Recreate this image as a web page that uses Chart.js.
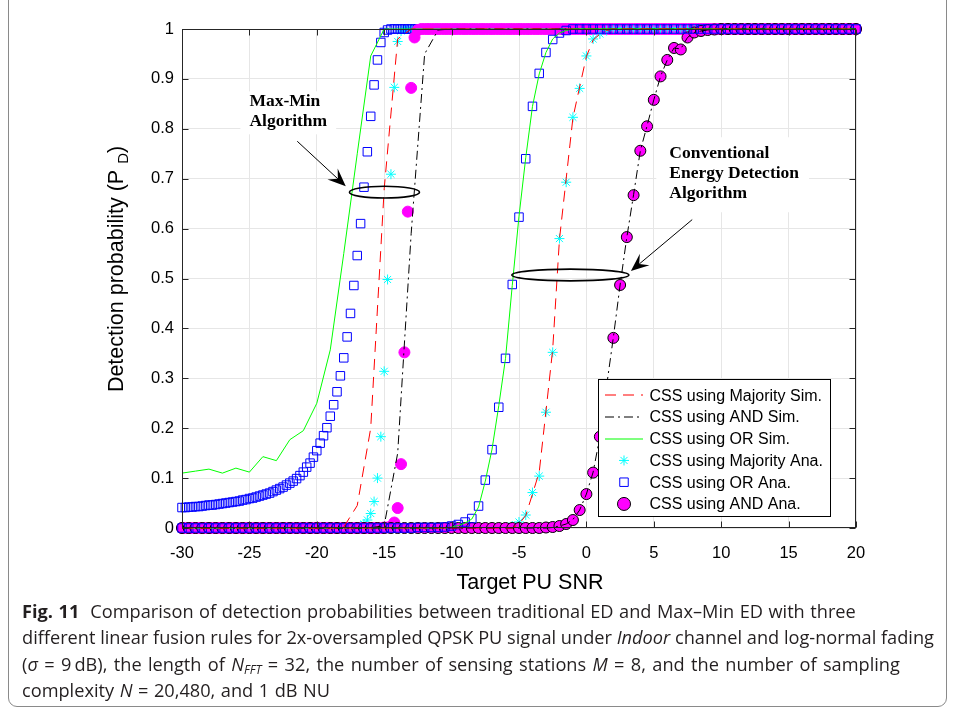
<!DOCTYPE html>
<html>
<head>
<meta charset="utf-8">
<script src="https://cdn.jsdelivr.net/npm/chart.js@4.4.1/dist/chart.umd.min.js"></script>
<style>
  html, body { margin: 0; padding: 0; background: #fff; }
  #wrap { position: relative; width: 955px; height: 714px; overflow: hidden; background: #fff; }
  #frame { position: absolute; left: 8px; top: -12px; width: 939px; height: 719px;
           border: 1px solid #8a8a8a; border-radius: 9px; box-sizing: border-box; }
  #c { position: absolute; left: 0; top: 0; }
  .cap { position: absolute; left: 22px; font-family: "Open Sans", sans-serif; font-size: 18.2px;
         line-height: 26px; color: #231f20; white-space: nowrap; }
  .cap b { font-weight: 700; }
  .cap sub { font-size: 12px; vertical-align: -3px; font-style: italic; }
</style>
</head>
<body>
<div id="wrap">
  <div id="frame"></div>
  <canvas id="c" width="955" height="714"></canvas>
  <div class="cap" data-w="833" style="top:598px"><b>Fig. 11</b>&nbsp; Comparison of detection probabilities between traditional ED and Max–Min ED with three</div>
  <div class="cap" data-w="912" style="top:624px">different linear fusion rules for 2x-oversampled QPSK PU signal under <i>Indoor</i> channel and log-normal fading</div>
  <div class="cap" data-w="878" style="top:651px">(<i>σ</i> = 9&#8201;dB), the length of <i>N</i><sub>FFT</sub> = 32, the number of sensing stations <i>M</i> = 8, and the number of sampling</div>
  <div class="cap" data-w="308" style="top:677px">complexity <i>N</i> = 20,480, and 1 dB NU</div>
</div>
<script>
// ---- SNR grids (dB) ----
const snrFine = [
  -30,-29.75,-29.5,-29.25,-29,-28.75,-28.5,-28.25,-28,-27.75,-27.5,-27.25,-27,-26.75,-26.5,-26.25,-26,-25.75,-25.5,-25.25,
  -25,-24.75,-24.5,-24.25,-24,-23.75,-23.5,-23.25,-23,-22.75,-22.5,-22.25,-22,-21.75,-21.5,-21.25,-21,-20.75,-20.5,-20.25,
  -20,-19.75,-19.5,-19.25,-19,-18.75,-18.5,-18.25,-18,-17.75,-17.5,-17.25,-17,-16.75,-16.5,-16.25,-16,-15.75,-15.5,-15.25,
  -15,-14.75,-14.5,-14.25,-14,-13.75,-13.5,-13.25,-13,-12.75,-12.5,-12.25,-12,-11.75,-11.5,-11.25,-11,-10.75,-10.5,-10.25,
  -10,-9.75,-9.5,-9.25,-9,-8.75,-8.5,-8.25,-8,-7.75,-7.5,-7.25,-7,-6.75,-6.5,-6.25,-6,-5.75,-5.5,-5.25,
  -5,-4.75,-4.5,-4.25,-4,-3.75,-3.5,-3.25,-3,-2.75,-2.5,-2.25,-2,-1.75,-1.5,-1.25,-1,-0.75,-0.5,-0.25,
  0,0.25,0.5,0.75,1,1.25,1.5,1.75,2,2.25,2.5,2.75,3,3.25,3.5,3.75,4,4.25,4.5,4.75,
  5,5.25,5.5,5.75,6,6.25,6.5,6.75,7,7.25,7.5,7.75,8,8.25,8.5,8.75,9,9.25,9.5,9.75,
  10,10.25,10.5,10.75,11,11.25,11.5,11.75,12,12.25,12.5,12.75,13,13.25,13.5,13.75,14,14.25,14.5,14.75,
  15,15.25,15.5,15.75,16,16.25,16.5,16.75,17,17.25,17.5,17.75,18,18.25,18.5,18.75,19,19.25,19.5,19.75,
  20
];
const snrHalf = [
  -30,-29.5,-29,-28.5,-28,-27.5,-27,-26.5,-26,-25.5,
  -25,-24.5,-24,-23.5,-23,-22.5,-22,-21.5,-21,-20.5,
  -20,-19.5,-19,-18.5,-18,-17.5,-17,-16.5,-16,-15.5,
  -15,-14.5,-14,-13.5,-13,-12.5,-12,-11.5,-11,-10.5,
  -10,-9.5,-9,-8.5,-8,-7.5,-7,-6.5,-6,-5.5,
  -5,-4.5,-4,-3.5,-3,-2.5,-2,-1.5,-1,-0.5,
  0,0.5,1,1.5,2,2.5,3,3.5,4,4.5,
  5,5.5,6,6.5,7,7.5,8,8.5,9,9.5,
  10,10.5,11,11.5,12,12.5,13,13.5,14,14.5,
  15,15.5,16,16.5,17,17.5,18,18.5,19,19.5,
  20
];
const snrSim = [
  -30,-29,-28,-27,-26,-25,-24,-23,-22,-21,
  -20,-19,-18,-17,-16,-15,-14,-13,-12,-11,
  -10,-9,-8,-7,-6,-5,-4,-3,-2,-1,
  0,1,2,3,4,5,6,7,8,9,
  10,11,12,13,14,15,16,17,18,19,
  20
];

// ---- Max-Min energy detection: analytical (on snrFine) ----
const mmOrAna = [
  .041,.041,.042,.042,.043,.043,.044,.045,.046,.046,.047,.048,.049,.050,.051,.052,.053,.054,.056,.057,
  .059,.060,.062,.064,.066,.068,.070,.073,.076,.079,.082,.086,.090,.094,.099,.105,.112,.122,.130,.142,
  .155,.170,.185,.201,.224,.247,.273,.305,.341,.383,.430,.486,.546,.610,.683,.754,.825,.888,.938,.973,
  .993,.998,1,1,1,1,1,1,1,1,1,1,1,1,1,1,1,1,1,1,
  1,1,1,1,1,1,1,1,1,1,1,1,1,1,1,1,1,1,1,1,
  1,1,1,1,1,1,1,1,1,1,1,1,1,1,1,1,1,1,1,1,
  1,1,1,1,1,1,1,1,1,1,1,1,1,1,1,1,1,1,1,1,
  1,1,1,1,1,1,1,1,1,1,1,1,1,1,1,1,1,1,1,1,
  1,1,1,1,1,1,1,1,1,1,1,1,1,1,1,1,1,1,1,1,
  1,1,1,1,1,1,1,1,1,1,1,1,1,1,1,1,1,1,1,1,
  1
];
const mmAndAna = [
  0,0,0,0,0,0,0,0,0,0,0,0,0,0,0,0,0,0,0,0,
  0,0,0,0,0,0,0,0,0,0,0,0,0,0,0,0,0,0,0,0,
  0,0,0,0,0,0,0,0,0,0,0,0,0,0,0,0,0,0,0,0,
  .001,.001,.003,.011,.040,.128,.352,.634,.882,.983,.998,1,1,1,1,1,1,1,1,1,
  1,1,1,1,1,1,1,1,1,1,1,1,1,1,1,1,1,1,1,1,
  1,1,1,1,1,1,1,1,1,1,1,1,1,1,1,1,1,1,1,1,
  1,1,1,1,1,1,1,1,1,1,1,1,1,1,1,1,1,1,1,1,
  1,1,1,1,1,1,1,1,1,1,1,1,1,1,1,1,1,1,1,1,
  1,1,1,1,1,1,1,1,1,1,1,1,1,1,1,1,1,1,1,1,
  1,1,1,1,1,1,1,1,1,1,1,1,1,1,1,1,1,1,1,1,
  1
];
const mmMajAna = [
  0,0,0,0,0,0,0,0,0,0,0,0,0,0,0,0,0,0,0,0,
  0,0,0,0,0,0,0,0,0,0,0,0,0,0,0,0,0,0,0,0,
  0,0,0,0,0,0,0,0,0,0,0,0,.002,.004,.008,.016,.029,.053,.100,.183,
  .314,.498,.709,.883,.975,.996,1,1,1,1,1,1,1,1,1,1,1,1,1,1,
  1,1,1,1,1,1,1,1,1,1,1,1,1,1,1,1,1,1,1,1,
  1,1,1,1,1,1,1,1,1,1,1,1,1,1,1,1,1,1,1,1,
  1,1,1,1,1,1,1,1,1,1,1,1,1,1,1,1,1,1,1,1,
  1,1,1,1,1,1,1,1,1,1,1,1,1,1,1,1,1,1,1,1,
  1,1,1,1,1,1,1,1,1,1,1,1,1,1,1,1,1,1,1,1,
  1,1,1,1,1,1,1,1,1,1,1,1,1,1,1,1,1,1,1,1,
  1
];

// ---- Max-Min energy detection: simulated (on snrSim) ----
const mmOrSim = [
  .110,.114,.118,.110,.120,.112,.143,.135,.177,.195,
  .250,.357,.550,.750,.946,1,1,1,1,1,
  1,1,1,1,1,1,1,1,1,1,
  1,1,1,1,1,1,1,1,1,1,
  1,1,1,1,1,1,1,1,1,1,
  1
];
const mmMajSim = [
  0,0,0,0,0,0,0,0,0,0,
  0,0,.002,.045,.200,.680,.980,1,1,1,
  1,1,1,1,1,1,1,1,1,1,
  1,1,1,1,1,1,1,1,1,1,
  1,1,1,1,1,1,1,1,1,1,
  1
];
const mmAndSim = [
  0,0,0,0,0,0,0,0,0,0,
  0,0,0,0,0,.005,.150,.590,.950,.998,
  1,1,1,1,1,1,1,1,1,1,
  1,1,1,1,1,1,1,1,1,1,
  1,1,1,1,1,1,1,1,1,1,
  1
];

// ---- Conventional energy detection: analytical (on snrHalf) ----
const edOrAna = [
  0,0,0,0,0,0,0,0,0,0,
  0,0,0,0,0,0,0,0,0,0,
  0,0,0,0,0,0,0,0,0,0,
  0,0,0,0,0,.001,.001,.001,.001,.002,
  .004,.007,.012,.019,.044,.096,.157,.242,.340,.488,
  .623,.740,.845,.911,.953,.979,.992,.997,1,1,
  1,1,1,1,1,1,1,1,1,1,
  1,1,1,1,1,1,1,1,1,1,
  1,1,1,1,1,1,1,1,1,1,
  1,1,1,1,1,1,1,1,1,1,
  1
];
const edMajAna = [
  0,0,0,0,0,0,0,0,0,0,
  0,0,0,0,0,0,0,0,0,0,
  0,0,0,0,0,0,0,0,0,0,
  0,0,0,0,0,0,0,0,0,0,
  0,0,0,0,0,0,0,0,0,.004,
  .012,.026,.071,.104,.232,.352,.580,.693,.823,.881,
  .946,.980,.990,.997,1,1,1,1,1,1,
  1,1,1,1,1,1,1,1,1,1,
  1,1,1,1,1,1,1,1,1,1,
  1,1,1,1,1,1,1,1,1,1,
  1
];
const edAndAna = [
  0,0,0,0,0,0,0,0,0,0,
  0,0,0,0,0,0,0,0,0,0,
  0,0,0,0,0,0,0,0,0,0,
  0,0,0,0,0,0,0,0,0,0,
  0,0,0,0,0,0,0,0,0,0,
  0,0,0,0,.001,.002,.004,.008,.016,.036,
  .068,.111,.183,.285,.381,.487,.583,.667,.756,.805,
  .858,.905,.938,.962,.959,.983,.993,.996,.998,.999,
  1,1,1,1,1,1,1,1,1,1,
  1,1,1,1,1,1,1,1,1,1,
  1
];

// ---- Conventional energy detection: simulated (on snrHalf) ----
const edOrSim = [
  0,0,0,0,0,0,0,0,0,0,
  0,0,0,0,0,0,0,0,0,0,
  0,0,0,0,0,0,0,0,0,0,
  0,0,0,0,0,0,0,0,0,0,
  .002,.005,.010,.018,.042,.094,.158,.245,.340,.486,
  .625,.742,.845,.910,.953,.980,.992,.997,1,1,
  1,1,1,1,1,1,1,1,1,1,
  1,1,1,1,1,1,1,1,1,1,
  1,1,1,1,1,1,1,1,1,1,
  1,1,1,1,1,1,1,1,1,1,
  1
];
const edMajSim = [
  0,0,0,0,0,0,0,0,0,0,
  0,0,0,0,0,0,0,0,0,0,
  0,0,0,0,0,0,0,0,0,0,
  0,0,0,0,0,0,0,0,0,0,
  0,0,0,0,0,0,0,0,0,0,
  .008,.025,.068,.112,.234,.358,.578,.700,.822,.884,
  .945,.978,.990,.997,1,1,1,1,1,1,
  1,1,1,1,1,1,1,1,1,1,
  1,1,1,1,1,1,1,1,1,1,
  1,1,1,1,1,1,1,1,1,1,
  1
];
const edAndSim = [
  0,0,0,0,0,0,0,0,0,0,
  0,0,0,0,0,0,0,0,0,0,
  0,0,0,0,0,0,0,0,0,0,
  0,0,0,0,0,0,0,0,0,0,
  0,0,0,0,0,0,0,0,0,0,
  0,0,0,0,0,.001,.004,.008,.017,.036,
  .068,.112,.183,.285,.382,.487,.583,.668,.756,.806,
  .858,.905,.938,.962,.960,.983,.993,.996,.998,.999,
  1,1,1,1,1,1,1,1,1,1,
  1,1,1,1,1,1,1,1,1,1,
  1
];

// ---- axis ticks and labels ----
const xTicks = [-30, -25, -20, -15, -10, -5, 0, 5, 10, 15, 20];
const xTickLabels = ['-30', '-25', '-20', '-15', '-10', '-5', '0', '5', '10', '15', '20'];
const yTicks = [0, 0.1, 0.2, 0.3, 0.4, 0.5, 0.6, 0.7, 0.8, 0.9, 1];
const yTickLabels = ['0', '0.1', '0.2', '0.3', '0.4', '0.5', '0.6', '0.7', '0.8', '0.9', '1'];
const legendLabels = ['CSS using Majority Sim.', 'CSS using AND Sim.', 'CSS using OR Sim.',
                      'CSS using Majority Ana.', 'CSS using OR Ana.', 'CSS using AND Ana.'];
const xTitle = 'Target PU SNR';
const yTitle = 'Detection probability (P';
const yTitleSub = 'D';

// ---- annotation placement, in axis units ----
const notes = {
  mmText:   { x: -25.0, y: 0.845, lines: ['Max-Min', 'Algorithm'], pad: [9, 3, 9, 4] },
  edText:   { x: 6.15, y: 0.741, lines: ['Conventional', 'Energy Detection', 'Algorithm'], pad: [13, 9, 10, 10] },
  mmEllipse: { x: -14.98, y: 0.673, rx: 2.6, ry: 0.0118 },
  edEllipse: { x: -1.19, y: 0.507, rx: 4.34, ry: 0.0118 },
  mmArrow:  { x0: -21.45, y0: 0.775, x1: -17.85, y1: 0.685 },
  edArrow:  { x0: 7.85, y0: 0.618, x1: 3.3, y1: 0.515 }
};

function pts(xs, ys, name) {
  if (xs.length !== ys.length) throw new Error(name + ': ' + xs.length + ' x vs ' + ys.length + ' y');
  return xs.map((x, i) => ({ x: x, y: ys[i] }));
}

const RED = '#ff0000', GREEN = '#00ff00', BLACK = '#000000', CYAN = '#00ffff', BLUE = '#0000ff', MAGENTA = '#ff00ff';
const DASH = [11, 7], DASHDOT = [9, 4, 2, 4];

function simLine(data, color, dash) {
  return { data: data, showLine: true, borderColor: color, borderWidth: 1, borderDash: dash,
           pointRadius: 0, pointHoverRadius: 0, fill: false, clip: false, tension: 0 };
}
function marks(data, style, radius, fillColor, edgeColor, edge) {
  return { data: data, showLine: false, pointStyle: style, pointRadius: radius, pointHoverRadius: radius,
           pointBackgroundColor: fillColor, pointBorderColor: edgeColor, pointBorderWidth: edge,
           backgroundColor: fillColor, borderColor: edgeColor, clip: false };
}

const datasets = [
  simLine(pts(snrHalf, edMajSim, 'edMajSim'), RED, DASH),
  simLine(pts(snrHalf, edAndSim, 'edAndSim'), BLACK, DASHDOT),
  simLine(pts(snrHalf, edOrSim, 'edOrSim'), GREEN, []),
  simLine(pts(snrSim, mmMajSim, 'mmMajSim'), RED, DASH),
  simLine(pts(snrSim, mmAndSim, 'mmAndSim'), BLACK, DASHDOT),
  simLine(pts(snrSim, mmOrSim, 'mmOrSim'), GREEN, []),
  marks(pts(snrHalf, edOrAna, 'edOrAna'), 'rect', 6, 'rgba(0,0,0,0)', BLUE, 1),
  marks(pts(snrHalf, edAndAna, 'edAndAna'), 'circle', 5.5, MAGENTA, BLACK, 1),
  marks(pts(snrHalf, edMajAna, 'edMajAna'), 'star', 5, CYAN, CYAN, 1),
  marks(pts(snrFine, mmAndAna, 'mmAndAna'), 'circle', 5.5, MAGENTA, MAGENTA, 1),
  marks(pts(snrFine, mmOrAna, 'mmOrAna'), 'rect', 6, 'rgba(0,0,0,0)', BLUE, 1),
  marks(pts(snrFine, mmMajAna, 'mmMajAna'), 'star', 5, CYAN, CYAN, 1)
];

// legend rows: [label, line colour, dash, marker]
const legendRows = [
  [legendLabels[0], RED, DASH, null],
  [legendLabels[1], BLACK, DASHDOT, null],
  [legendLabels[2], GREEN, [], null],
  [legendLabels[3], null, null, { style: 'star', r: 5, fill: CYAN, edge: CYAN }],
  [legendLabels[4], null, null, { style: 'rect', r: 6, fill: 'rgba(0,0,0,0)', edge: BLUE }],
  [legendLabels[5], null, null, { style: 'circle', r: 6.5, fill: MAGENTA, edge: BLACK }]
];

const AXIS = '#262626';
const TICKFONT = { family: '"Liberation Sans", Arial, sans-serif', size: 16.5 };
const TITLEFONT = '21.5px "Liberation Sans", Arial, sans-serif';
const SUBFONT = '15px "Liberation Sans", Arial, sans-serif';

const decor = {
  id: 'decor',
  beforeDatasetsDraw(chart) {
    const ctx = chart.ctx, xs = chart.scales.x, ys = chart.scales.y;
    ctx.save();
    ctx.font = 'bold 17.5px "Liberation Serif", "Times New Roman", serif';
    [notes.mmText, notes.edText].forEach(n => {
      const px = xs.getPixelForValue(n.x), py = ys.getPixelForValue(n.y);
      const w = Math.max(...n.lines.map(s => ctx.measureText(s).width));
      const top = py - 12 - n.pad[1];
      const bottom = py + 20 * (n.lines.length - 1) + 4 + n.pad[3];
      ctx.fillStyle = '#ffffff';
      ctx.fillRect(px - n.pad[0], top, w + n.pad[0] + n.pad[2], bottom - top);
    });
    ctx.restore();
  },
  afterDatasetsDraw(chart) {
    const ctx = chart.ctx, a = chart.chartArea, xs = chart.scales.x, ys = chart.scales.y;
    ctx.save();
    // axes box with inward ticks
    ctx.strokeStyle = AXIS; ctx.lineWidth = 1;
    const L = Math.round(a.left) + 0.5, R = Math.round(a.right) - 0.5;
    const T = Math.round(a.top) + 0.5, B = Math.round(a.bottom) - 0.5;
    ctx.strokeRect(L, T, R - L, B - T);
    ctx.beginPath();
    xTicks.forEach(v => {
      const p = Math.round(xs.getPixelForValue(v)) + 0.5;
      ctx.moveTo(p, B); ctx.lineTo(p, B - 6);
      ctx.moveTo(p, T); ctx.lineTo(p, T + 6);
    });
    yTicks.forEach(v => {
      const p = Math.round(ys.getPixelForValue(v)) + 0.5;
      ctx.moveTo(L, p); ctx.lineTo(L + 6, p);
      ctx.moveTo(R, p); ctx.lineTo(R - 6, p);
    });
    ctx.stroke();

    // ellipses
    ctx.strokeStyle = '#000'; ctx.lineWidth = 1.6;
    [notes.mmEllipse, notes.edEllipse].forEach(e => {
      const cx = xs.getPixelForValue(e.x), cy = ys.getPixelForValue(e.y);
      const rx = Math.abs(xs.getPixelForValue(e.x + e.rx) - cx), ry = Math.abs(ys.getPixelForValue(e.y + e.ry) - cy);
      ctx.beginPath(); ctx.ellipse(cx, cy, rx, ry, 0, 0, Math.PI * 2); ctx.stroke();
    });

    // arrows
    [notes.mmArrow, notes.edArrow].forEach(ar => {
      const x0 = xs.getPixelForValue(ar.x0), y0 = ys.getPixelForValue(ar.y0);
      const x1 = xs.getPixelForValue(ar.x1), y1 = ys.getPixelForValue(ar.y1);
      const len = Math.hypot(x1 - x0, y1 - y0), ux = (x1 - x0) / len, uy = (y1 - y0) / len;
      const hl = 18, hw = 7.5;
      ctx.strokeStyle = '#000'; ctx.lineWidth = 1;
      ctx.beginPath(); ctx.moveTo(x0, y0); ctx.lineTo(x1 - ux * hl * 0.6, y1 - uy * hl * 0.6); ctx.stroke();
      ctx.fillStyle = '#000';
      ctx.beginPath();
      ctx.moveTo(x1, y1);
      ctx.lineTo(x1 - ux * hl - uy * hw, y1 - uy * hl + ux * hw);
      ctx.lineTo(x1 - ux * hl * 0.6, y1 - uy * hl * 0.6);
      ctx.lineTo(x1 - ux * hl + uy * hw, y1 - uy * hl - ux * hw);
      ctx.closePath(); ctx.fill();
    });

    // annotation text
    ctx.fillStyle = '#000';
    ctx.font = 'bold 17.5px "Liberation Serif", "Times New Roman", serif';
    ctx.textAlign = 'left'; ctx.textBaseline = 'alphabetic';
    [notes.mmText, notes.edText].forEach(n => {
      const px = xs.getPixelForValue(n.x), py = ys.getPixelForValue(n.y);
      n.lines.forEach((s, i) => ctx.fillText(s, px, py + 20 * i));
    });

    // legend box
    const bw = 232, bh = 137;
    const bx = Math.round(a.right - 26 - bw) + 0.5, by = Math.round(a.bottom - 12.5 - bh) + 0.5;
    ctx.fillStyle = '#fff'; ctx.fillRect(bx, by, bw, bh);
    ctx.strokeStyle = '#000'; ctx.lineWidth = 1; ctx.strokeRect(bx, by, bw, bh);
    ctx.font = '16px "Liberation Sans", Arial, sans-serif';
    ctx.textBaseline = 'middle';
    legendRows.forEach((row, i) => {
      const yy = by + 15.7 + i * 21.75;
      if (row[1]) {
        ctx.strokeStyle = row[1]; ctx.lineWidth = 1.2; ctx.setLineDash(row[2]);
        ctx.beginPath(); ctx.moveTo(bx + 6.5, Math.round(yy)); ctx.lineTo(bx + 44.5, Math.round(yy)); ctx.stroke();
        ctx.setLineDash([]);
      } else {
        const m = row[3];
        ctx.fillStyle = m.fill; ctx.strokeStyle = m.edge; ctx.lineWidth = 1;
        Chart.helpers.drawPoint(ctx, { pointStyle: m.style, radius: m.r, rotation: 0, borderWidth: 1 }, bx + 25.5, yy);
      }
      ctx.fillStyle = '#000';
      ctx.fillText(row[0], bx + 51, yy + 1);
    });
    ctx.restore();
  },
  afterDraw(chart) {
    const ctx = chart.ctx;
    ctx.save();
    ctx.fillStyle = '#000';
    ctx.font = TITLEFONT; ctx.textAlign = 'center'; ctx.textBaseline = 'middle';
    ctx.fillText(xTitle, 530, 583);
    // y title with subscript
    ctx.translate(117.5, 269); ctx.rotate(-Math.PI / 2);
    ctx.textAlign = 'left';
    const w1 = ctx.measureText(yTitle + ' ').width;
    ctx.font = SUBFONT;
    const w2 = ctx.measureText(yTitleSub).width;
    ctx.font = TITLEFONT;
    const w3 = ctx.measureText(')').width;
    const start = -(w1 + w2 + w3) / 2;
    ctx.fillText(yTitle + ' ', start, 0);
    ctx.font = SUBFONT;
    ctx.fillText(yTitleSub, start + w1, 6);
    ctx.font = TITLEFONT;
    ctx.fillText(')', start + w1 + w2, 0);
    ctx.restore();
  }
};

new Chart(document.getElementById('c'), {
  type: 'scatter',
  data: { datasets: datasets },
  options: {
    responsive: false,
    animation: false,
    events: [],
    layout: { padding: { left: 0, top: 29, right: 99, bottom: 0 } },
    plugins: { legend: { display: false }, tooltip: { enabled: false } },
    scales: {
      x: {
        type: 'linear', min: -30, max: 20,
        afterBuildTicks: s => { s.ticks = xTicks.map(v => ({ value: v })); },
        afterFit: s => { s.height = 186; },
        ticks: { color: '#000', font: TICKFONT, padding: 16, maxRotation: 0,
                 callback: (v, i) => xTickLabels[i] },
        grid: { color: '#e6e6e6', lineWidth: 1, drawTicks: false },
        border: { display: false }
      },
      y: {
        type: 'linear', min: 0, max: 1,
        afterBuildTicks: s => { s.ticks = yTicks.map(v => ({ value: v })); },
        afterFit: s => { s.width = 182; },
        ticks: { color: '#000', font: TICKFONT, padding: 8,
                 callback: (v, i) => yTickLabels[i] },
        grid: { color: '#e6e6e6', lineWidth: 1, drawTicks: false },
        border: { display: false }
      }
    }
  },
  plugins: [decor]
});

// caption lines: spread word gaps so each line fills its measured width
document.querySelectorAll('.cap').forEach(el => {
  const target = parseFloat(el.dataset.w);
  const natural = el.getBoundingClientRect().width;
  const gaps = (el.textContent.match(/ /g) || []).length;
  if (gaps > 0) el.style.wordSpacing = ((target - natural) / gaps).toFixed(2) + 'px';
});
</script>
</body>
</html>
